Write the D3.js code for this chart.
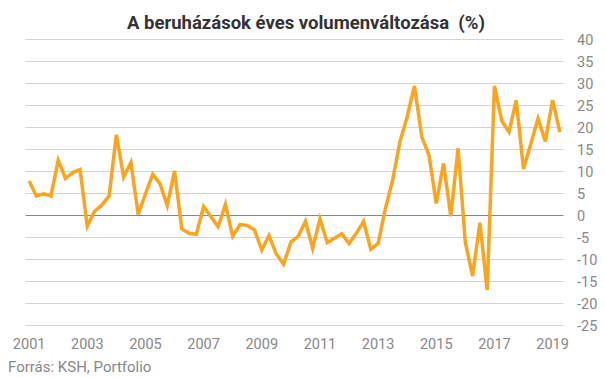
<!DOCTYPE html>
<html>
<head>
<meta charset="utf-8">
<script src="https://cdn.jsdelivr.net/npm/d3@7"></script>
<style>
body{margin:0;background:#fff;}
text{font-family:Roboto,"Liberation Sans",sans-serif;}
</style>
</head>
<body>
<div id="chart"></div>
<script>
const w = 605;
const h = 378;

// quarterly data, 2001 Q1 - 2019 Q2
const years = [2001,2002,2003,2004,2005,2006,2007,2008,2009,2010,2011,2012,2013,2014,2015,2016,2017,2018,2019];
const quarters = ['Q1','Q2','Q3','Q4'];
const values = [
  7.8, 4.4, 4.9, 4.4,
  12.5, 8.4, 9.7, 10.4,
  -2.5, 0.9, 2.3, 4.4,
  18.3, 8.7, 12.0, 0.2,
  4.8, 9.3, 7.2, 2.2,
  10.1, -3.1, -4.1, -4.3,
  2.0, -0.3, -2.6, 2.5,
  -4.8, -2.1, -2.3, -3.3,
  -7.9, -4.6, -8.8, -11.1,
  -6.1, -4.8, -1.4, -7.5,
  -0.8, -6.2, -5.2, -4.2,
  -6.4, -4.1, -1.4, -7.7,
  -6.4, 1.5, 8.0, 16.7,
  22.4, 29.4, 17.9, 13.6,
  2.7, 11.8, -0.2, 15.2,
  -6.2, -13.8, -1.7, -17.0,
  29.4, 21.5, 18.9, 26.1,
  10.5, 16.2, 22.0, 16.8,
  26.2, 18.9
];
const yTicks = [40,35,30,25,20,15,10,5,0,-5,-10,-15,-20,-25];
const xTickYears = [2001,2003,2005,2007,2009,2011,2013,2015,2017,2019];

const periods = values.map((v,i) => years[Math.floor(i/4)] + quarters[i%4]);
const data = values.map((v,i) => ({period: periods[i], value: v}));

const svg = d3.select('#chart')
.append('svg')
.attr('width',w)
.attr('height',h);

const x = d3.scalePoint()
.domain(periods)
.range([25.5,563.5])
.padding(0.5);

const y = d3.scaleLinear()
.domain([-25,40])
.range([325.3,39.3]);

//Title (keeps the double space before "(%)")
svg.append('text')
.attr('x',306)
.attr('y',29)
.attr('text-anchor','middle')
.style('white-space','pre')
.style('font-size','18.5px')
.style('font-weight','bold')
.style('fill','#333')
.text('A beruházások éves volumenváltozása  (%)');

//Gridlines
svg.append('g')
.selectAll('line')
.data(yTicks)
.enter()
.append('line')
.attr('x1',25.5)
.attr('x2',563.5)
.attr('y1',d => Math.round(y(d))+0.5)
.attr('y2',d => Math.round(y(d))+0.5)
.attr('stroke',d => d===0 ? '#888' : '#d4d4d4')
.attr('stroke-width',1);

//Y labels (right side)
svg.append('g')
.selectAll('text')
.data(yTicks)
.enter()
.append('text')
.attr('x',577)
.attr('y',d => y(d))
.attr('dy','0.36em')
.style('font-size','14.5px')
.style('fill','#888')
.text(d => d);

//X labels
svg.append('g')
.selectAll('text')
.data(xTickYears)
.enter()
.append('text')
.attr('x',d => x(d+'Q1'))
.attr('y',349)
.attr('text-anchor','middle')
.style('font-size','14.5px')
.style('fill','#888')
.text(d => d);

//Line
const line = d3.line()
.x(d => x(d.period))
.y(d => y(d.value));

svg.append('path')
.datum(data)
.attr('d',line)
.attr('fill','none')
.attr('stroke','#fba41f')
.attr('stroke-width',3.5)
.attr('stroke-linejoin','miter');

//Source
svg.append('text')
.attr('x',8)
.attr('y',372)
.style('font-size','15px')
.style('fill','#888')
.text('Forrás: KSH, Portfolio');
</script>
</body>
</html>
